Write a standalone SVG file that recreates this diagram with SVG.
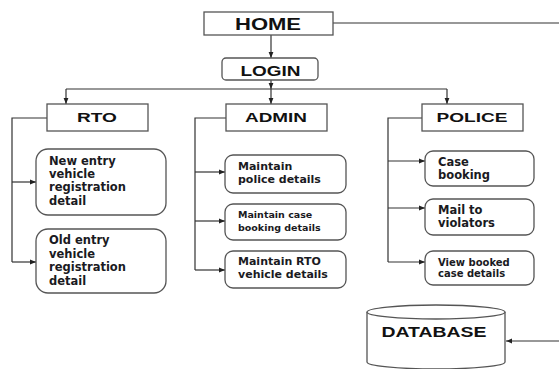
<svg xmlns="http://www.w3.org/2000/svg" width="559" height="369" viewBox="0 0 559 369">
<defs>
<marker id="ah" viewBox="0 0 10 10" refX="10" refY="5" markerWidth="6" markerHeight="6" orient="auto" markerUnits="userSpaceOnUse"><path d="M0,1 L10,5 L0,9 z" fill="#222"/></marker>
</defs>
<style>
.box{fill:#fff;stroke:#555;stroke-width:1.3}
.ln{fill:none;stroke:#333;stroke-width:1.2}
.ar{fill:none;stroke:#333;stroke-width:1.2;marker-end:url(#ah)}
.hd{font-family:"Liberation Sans",Arial,sans-serif;font-weight:bold;fill:#111;text-anchor:middle}
.tx{font-family:"DejaVu Sans",sans-serif;font-weight:bold;fill:#1a1a22}
</style>
<rect width="559" height="369" fill="#fff"/>
<g id="connectors">
<path class="ln" d="M333,23 H559"/>
<path class="ar" d="M271,35 V58"/>
<path class="ar" d="M271,80 V89"/>
<path class="ar" d="M271,89 V104"/>
<path class="ln" d="M66,89 H447"/>
<path class="ar" d="M66,89 V104"/>
<path class="ar" d="M447,89 V104"/>
<path class="ln" d="M47,118 H12 V262"/>
<path class="ar" d="M12,182 H36"/>
<path class="ar" d="M12,262 H36"/>
<path class="ln" d="M226,118 H195 V270"/>
<path class="ar" d="M195,172 H225"/>
<path class="ar" d="M195,221 H225"/>
<path class="ar" d="M195,270 H225"/>
<path class="ln" d="M422,118 H388 V262"/>
<path class="ar" d="M388,161 H425"/>
<path class="ar" d="M388,208 H425"/>
<path class="ar" d="M388,262 H425"/>
<path class="ar" d="M559,341 H506"/>
</g>
<g id="home"><rect class="box" x="204" y="12" width="129" height="23"/><text class="hd" x="268" y="30" font-size="16" textLength="66" lengthAdjust="spacingAndGlyphs">HOME</text></g>
<g id="login"><rect class="box" x="222" y="58" width="96" height="22" rx="4"/><text class="hd" x="270.5" y="76" font-size="14" textLength="60" lengthAdjust="spacingAndGlyphs">LOGIN</text></g>
<g id="rto"><rect class="box" x="47" y="104" width="101" height="27"/><text class="hd" x="97" y="121.5" font-size="13.5" textLength="40" lengthAdjust="spacingAndGlyphs">RTO</text></g>
<g id="admin"><rect class="box" x="226" y="104" width="101" height="27"/><text class="hd" x="276" y="121.5" font-size="13.5" textLength="62" lengthAdjust="spacingAndGlyphs">ADMIN</text></g>
<g id="police"><rect class="box" x="422" y="104" width="101" height="27"/><text class="hd" x="472" y="121.5" font-size="13.5" textLength="71" lengthAdjust="spacingAndGlyphs">POLICE</text></g>
<g id="rto-new"><rect class="box" x="36" y="149" width="130" height="66" rx="12"/><text class="tx" font-size="11.5"><tspan x="49" y="165">New entry</tspan><tspan x="49" y="178">vehicle</tspan><tspan x="49" y="191">registration</tspan><tspan x="49" y="205">detail</tspan></text></g>
<g id="rto-old"><rect class="box" x="36" y="229" width="130" height="64" rx="12"/><text class="tx" font-size="11.5"><tspan x="49" y="244">Old entry</tspan><tspan x="49" y="258">vehicle</tspan><tspan x="49" y="271">registration</tspan><tspan x="49" y="285">detail</tspan></text></g>
<g id="admin-police"><rect class="box" x="225" y="155" width="121" height="38" rx="8"/><text class="tx" font-size="11"><tspan x="238" y="170">Maintain</tspan><tspan x="238" y="183">police details</tspan></text></g>
<g id="admin-case"><rect class="box" x="225" y="204" width="121" height="36" rx="8"/><text class="tx" font-size="9.5"><tspan x="238" y="217.5">Maintain case</tspan><tspan x="238" y="230.5">booking details</tspan></text></g>
<g id="admin-rto"><rect class="box" x="225" y="251" width="121" height="37" rx="8"/><text class="tx" font-size="11"><tspan x="238" y="265">Maintain RTO</tspan><tspan x="238" y="278">vehicle details</tspan></text></g>
<g id="police-case"><rect class="box" x="425" y="151" width="109" height="35" rx="8"/><text class="tx" font-size="11.5"><tspan x="438" y="166">Case</tspan><tspan x="438" y="179">booking</tspan></text></g>
<g id="police-mail"><rect class="box" x="425" y="199" width="109" height="36" rx="8"/><text class="tx" font-size="11.5"><tspan x="438" y="214">Mail to</tspan><tspan x="438" y="227">violators</tspan></text></g>
<g id="police-view"><rect class="box" x="425" y="251" width="109" height="34" rx="8"/><text class="tx" font-size="10"><tspan x="438" y="265.5">View booked</tspan><tspan x="438" y="276.5">case details</tspan></text></g>
<g id="database">
<path class="box" d="M367,312 V362 A69,7 0 0 0 505,362 V312"/>
<ellipse class="box" cx="436" cy="312" rx="69" ry="7"/>
<text class="hd" x="434" y="337" font-size="14" textLength="105" lengthAdjust="spacingAndGlyphs">DATABASE</text>
</g>
</svg>
